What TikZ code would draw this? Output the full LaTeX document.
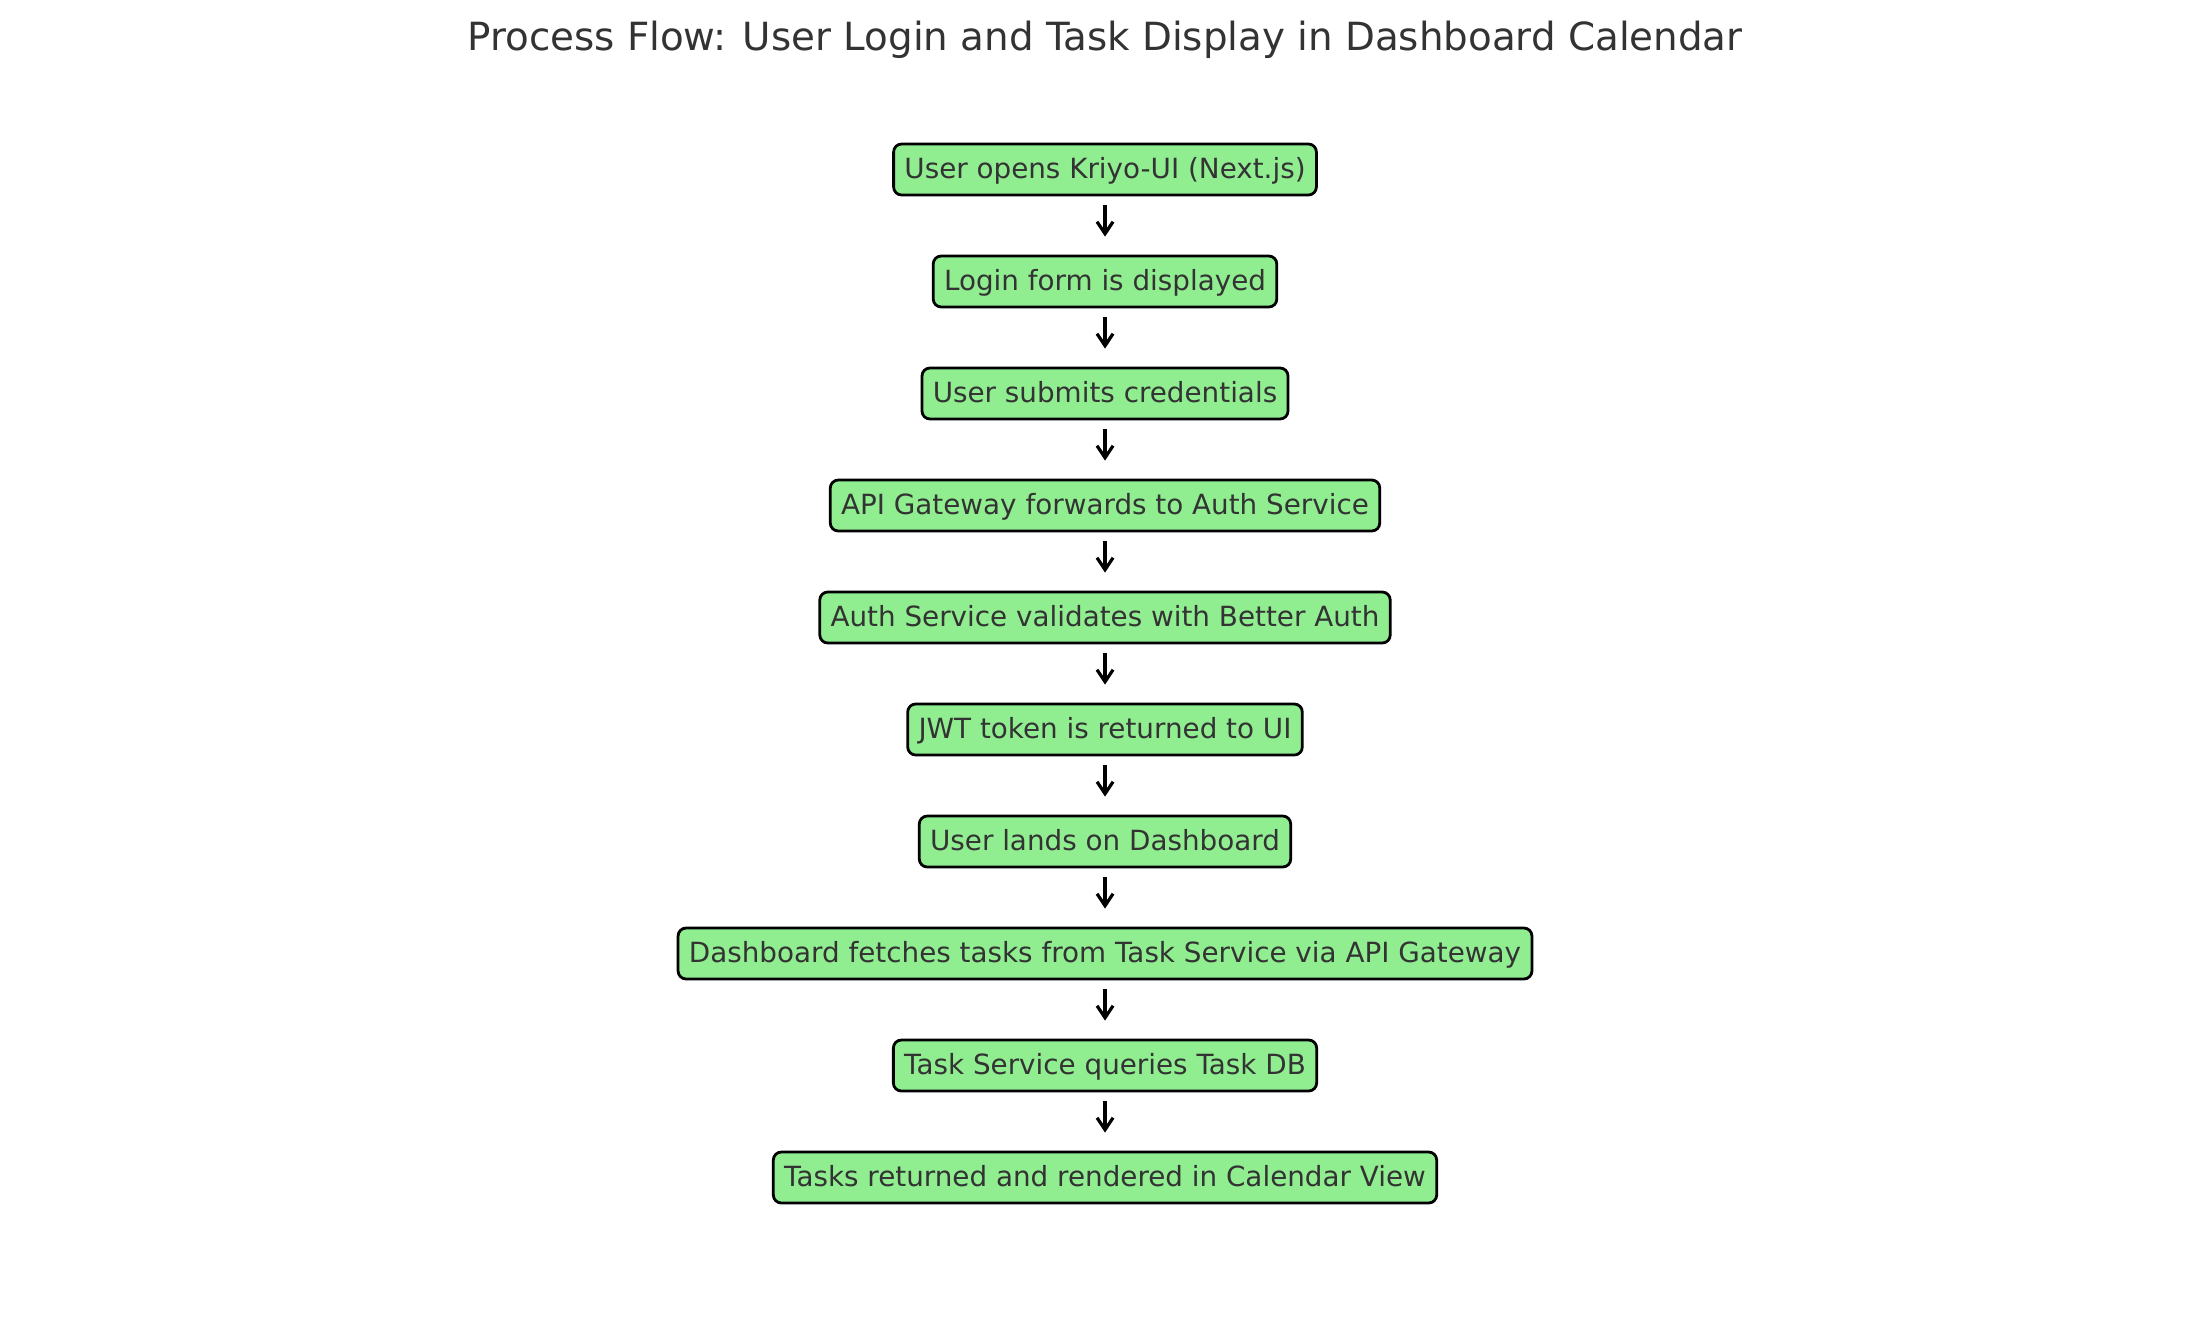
\documentclass[tikz,border=0pt]{standalone}
\usepackage{fontspec}
\setmainfont{DejaVu Sans}
\usetikzlibrary{arrows.meta}
\definecolor{boxgreen}{HTML}{90EE90}
\definecolor{txt}{HTML}{333333}
\tikzset{
  stepbox/.style={draw=black, fill=boxgreen, line width=1.39pt, rounded corners=4pt,
    text=txt, font=\fontsize{13.9}{16}\selectfont, inner xsep=5.4pt, inner ysep=0pt,
    minimum height=25.5pt, text height=0.93em, text depth=0pt},
  flowarr/.style={draw=black, line width=2pt, -{Straight Barb[length=6pt,width=8pt,line width=1.6pt]}},
}
\begin{document}
\begin{tikzpicture}[x=0.5pt,y=-0.5pt]
\useasboundingbox (0,0) rectangle (2210,1318);
\node[text=txt, font=\fontsize{19.4}{22}\selectfont] (title) at (1105,40) {Process Flow: User Login and Task Display in Dashboard Calendar};
\node[stepbox] (n1) at (1105,169.5) {User opens Kriyo-UI (Next.js)};
\node[stepbox] (n2) at (1105,281.5) {Login form is displayed};
\node[stepbox] (n3) at (1105,393.5) {User submits credentials};
\node[stepbox] (n4) at (1105,505.5) {API Gateway forwards to Auth Service};
\node[stepbox] (n5) at (1105,617.5) {Auth Service validates with Better Auth};
\node[stepbox] (n6) at (1105,729.5) {JWT token is returned to UI};
\node[stepbox] (n7) at (1105,841.5) {User lands on Dashboard};
\node[stepbox] (n8) at (1105,953.5) {Dashboard fetches tasks from Task Service via API Gateway};
\node[stepbox] (n9) at (1105,1065.5) {Task Service queries Task DB};
\node[stepbox] (n10) at (1105,1177.5) {Tasks returned and rendered in Calendar View};
\foreach \a/\b in {n1/n2,n2/n3,n3/n4,n4/n5,n5/n6,n6/n7,n7/n8,n8/n9,n9/n10}{
  \draw[flowarr] ([yshift=-4.5pt]\a.south) -- ([yshift=9pt]\b.north);
}
\end{tikzpicture}
\end{document}
